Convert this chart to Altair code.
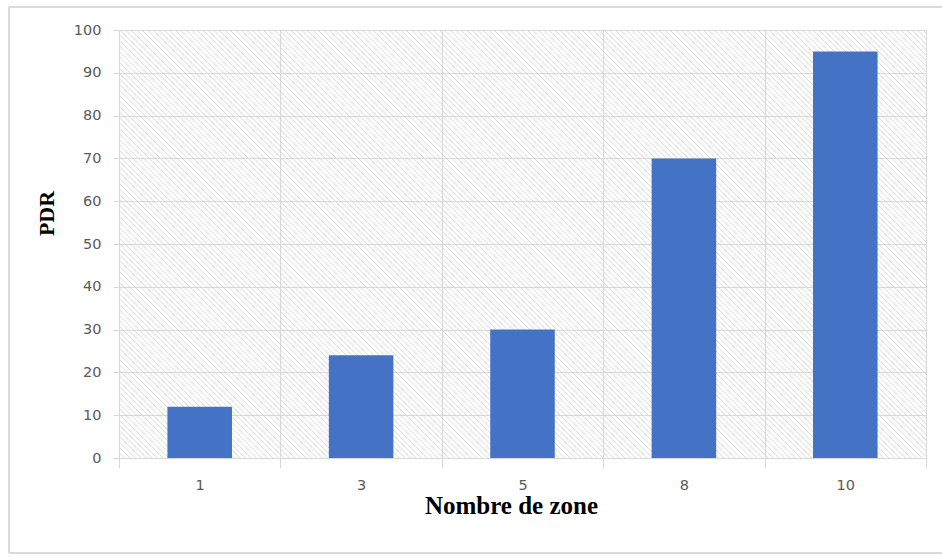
import altair as alt
import numpy as np
import pandas as pd

# Data: packet delivery ratio by number of zones
zones = ["1", "3", "5", "8", "10"]
pdr = [12, 24, 30, 70, 95]
y_ticks = [0, 10, 20, 30, 40, 50, 60, 70, 80, 90, 100]

W, H = 807, 428
GRID = "#d9d9d9"
LABEL = "#595959"
BAR = "#4472C4"

bars_df = pd.DataFrame({"zone": zones, "pdr": pdr})

# Diagonal hatch texture for the plot background (pixel space)
step = 5.5
offsets = np.arange(-H, W + step, step)
hatch_df = pd.DataFrame({"hx": offsets, "hy": H, "hx2": offsets + H, "hy2": 0})

hatch = alt.Chart(hatch_df).mark_rule(color="#d0d0d0", strokeWidth=0.8, clip=True).encode(
    x=alt.X("hx:Q", scale=alt.Scale(domain=[0, W], nice=False, zero=False), axis=None),
    x2="hx2:Q",
    y=alt.Y("hy:Q", scale=alt.Scale(domain=[0, H], nice=False, zero=False), axis=None),
    y2="hy2:Q",
)

bars = alt.Chart(bars_df).mark_bar(color=BAR, width=alt.RelativeBandSize(0.4)).encode(
    x=alt.X(
        "zone:N",
        sort=zones,
        scale=alt.Scale(paddingInner=0, paddingOuter=0),
        axis=alt.Axis(
            title="Nombre de zone",
            tickBand="extent",
            labelAngle=0,
            grid=True,
            gridColor=GRID,
            domainColor=GRID,
            tickColor=GRID,
            tickSize=10,
            labelPadding=10,
            labelFont="DejaVu Sans",
            labelFontSize=14.5,
            labelColor=LABEL,
            titleFont="Liberation Serif",
            titleFontWeight="bold",
            titleFontSize=25,
            titleColor="#000000",
            titleX=392,
            titleY=55,
            titleBaseline="alphabetic",
            titleAlign="center",
        ),
    ),
    y=alt.Y(
        "pdr:Q",
        scale=alt.Scale(domain=[0, 100], nice=False),
        axis=alt.Axis(
            title="PDR",
            values=y_ticks,
            grid=True,
            gridColor=GRID,
            domain=False,
            tickColor=GRID,
            tickSize=6,
            labelPadding=12,
            labelFont="DejaVu Sans",
            labelFontSize=14.5,
            labelColor=LABEL,
            titleFont="Liberation Serif",
            titleFontWeight="bold",
            titleFontSize=22,
            titleColor="#000000",
            titleX=-73,
            titleY=183,
            titleAngle=270,
            titleBaseline="middle",
            titleAlign="center",
        ),
    ),
)

# Light outer frame around the whole figure
frame = alt.Chart(bars_df).mark_rect(fill=None, stroke=GRID, strokeWidth=1, clip=False).encode(
    x=alt.value(-110), x2=alt.value(W + 40), y=alt.value(-23), y2=alt.value(H + 95)
)

chart = (
    alt.layer(hatch, bars, frame)
    .resolve_scale(x="independent", y="independent")
    .properties(
        width=W,
        height=H,
        autosize=alt.AutoSizeParams(type="none"),
        padding={"left": 119, "top": 30, "right": 16, "bottom": 98},
        background="#ffffff",
    )
    .configure_view(stroke=GRID)
)

chart.save("out.html", embed_options={"renderer": "svg", "actions": False})
